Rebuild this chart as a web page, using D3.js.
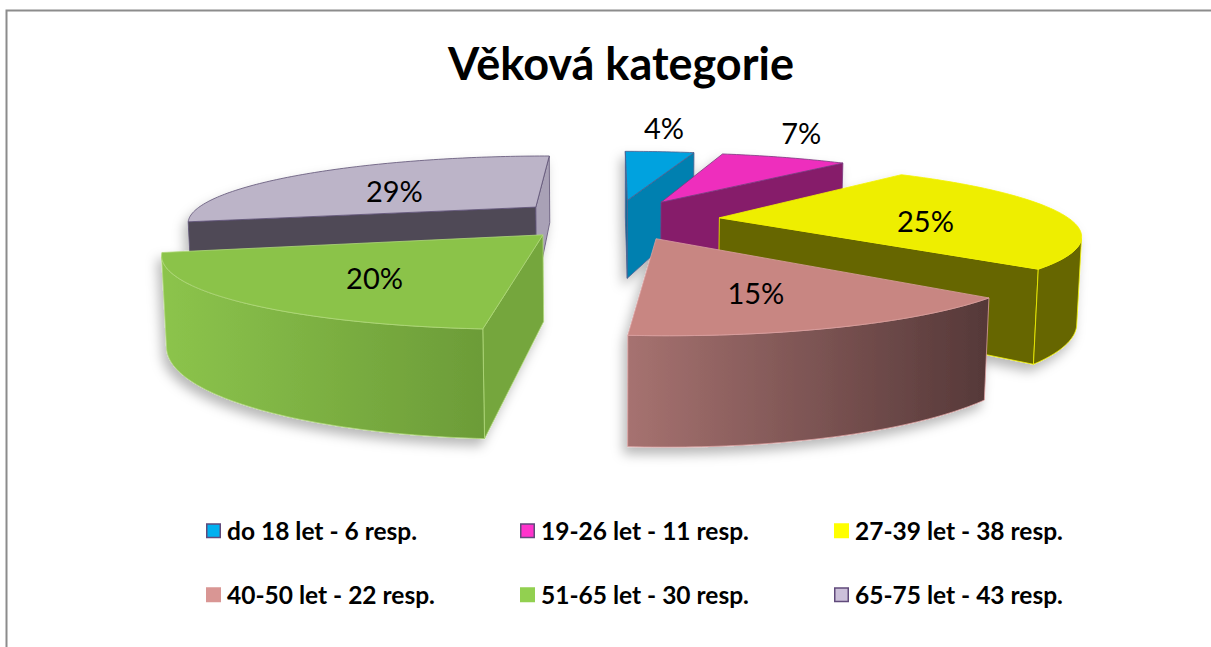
<!DOCTYPE html>
<html>
<head>
<meta charset="utf-8">
<script src="https://cdn.jsdelivr.net/npm/d3@7"></script>
<style>
  body { margin: 0; background: #fff; }
  text { font-family: Lato, "Open Sans", sans-serif; }
</style>
</head>
<body>
<div id="chart"></div>
<script>
// data
var title = "Věková kategorie";
var ageGroups = ["do 18 let", "19-26 let", "27-39 let", "40-50 let", "51-65 let", "65-75 let"];
var responses = [6, 11, 38, 22, 30, 43];

// colours: legend swatch, lit top face, outer wall (left/right), cut faces (start/end), edge line
var legendColors = ["#00b0f0", "#ff33cc", "#ffff00", "#d99694", "#92d050", "#ccc0da"];
var topColors = ["#00a2df", "#ee2fbd", "#eeee00", "#c88682", "#8bc34a", "#bcb4c8"];
var wallLeft = ["#0080b0", "#861a6a", "#666600", "#a67270", "#8cc44c", "#8a8296"];
var wallRight = ["#0080b0", "#861a6a", "#666600", "#553838", "#6c9c38", "#8a8296"];
var cutStart = ["#0a6f9c", "#861a6a", "#666600", "#a87472", "#74a63c", "#4f4a57"];
var cutEnd = ["#0080b0", "#861a6a", "#666600", "#7a5250", "#74a63c", "#a9a1b6"];
var edgeColors = ["#4f5f8e", "#7a3a7e", "#f2f200", "#dba0a0", "#b0d87a", "#5e5275"];
var swatchBorder = ["#604a7b", "#604a7b", "#ffff00", "#d99694", "#92d050", "#604a7b"];

var width = 1211, height = 647;

var svg = d3.select("#chart").append("svg")
  .attr("width", width)
  .attr("height", height);

var defs = svg.append("defs");
var shadow = defs.append("filter").attr("id", "shadow")
  .attr("x", "-20%").attr("y", "-20%").attr("width", "140%").attr("height", "150%");
shadow.append("feDropShadow")
  .attr("dx", -4).attr("dy", 7).attr("stdDeviation", 6)
  .attr("flood-color", "#000").attr("flood-opacity", 0.28);

// frame (top + left)
svg.append("path")
  .attr("d", "M6.5," + height + "V10.5H" + width)
  .attr("fill", "none")
  .attr("stroke", "#8c8c8c")
  .attr("stroke-width", 2);

svg.append("text")
  .attr("x", 621)
  .attr("y", 80)
  .attr("text-anchor", "middle")
  .style("font-size", "45px")
  .style("font-weight", "bold")
  .text(title);

// 3D perspective set-up
var cx = 615, cy = 219;          // screen position of pie centre (top surface)
var R = 350, E = 105, T = 85;    // radius, explode distance, thickness
var D = 1620, F = 1620;          // camera distance, focal length
var elev = Math.asin(0.19);
var ce = Math.cos(elev), se = Math.sin(elev);
var cam = [0, D * ce, D * se];

function proj(p) {
  var z = D - p[1] * ce - p[2] * se;
  return [cx + F * p[0] / z, cy + F * (p[1] * se - p[2] * ce) / z];
}
function facing(p, n) {
  return (cam[0] - p[0]) * n[0] + (cam[1] - p[1]) * n[1] + (cam[2] - p[2]) * n[2] > 0;
}

var total = d3.sum(responses);
var pct = d3.format(".0%");
var pie = d3.pie().sort(null).value(function(d) { return d; });
var arcs = pie(responses);

var line = d3.line().x(function(d) { return d[0]; }).y(function(d) { return d[1]; });

var slices = arcs.map(function(a, i) {
  var mid = (a.startAngle + a.endAngle) / 2;
  var ou = E * Math.sin(mid), ov = -E * Math.cos(mid);
  function pt(t, r, h) { return [ou + r * Math.sin(t), ov - r * Math.cos(t), h]; }
  return {i: i, a: a, mid: mid, ou: ou, ov: ov, pt: pt};
});

// far slices first
slices.sort(function(s1, s2) { return s1.ov - s2.ov; });

var pieG = svg.append("g").attr("filter", "url(#shadow)");

slices.forEach(function(s) {
  var i = s.i, a0 = s.a.startAngle, a1 = s.a.endAngle;
  var g = pieG.append("g").attr("class", "slice");
  var n = Math.max(4, Math.ceil((a1 - a0) * 180 / Math.PI));
  var thetas = d3.range(n + 1).map(function(k) { return a0 + (a1 - a0) * k / n; });
  var apexTop = s.pt(0, 0, 0), apexBot = s.pt(0, 0, -T);

  function face(points, fill) {
    g.append("path")
      .attr("d", line(points.map(proj)) + "Z")
      .attr("fill", fill)
      .attr("stroke", edgeColors[i])
      .attr("stroke-width", 0.8)
      .attr("stroke-linejoin", "round");
  }

  // cut face at start angle
  var nA = [Math.sin(a0 - Math.PI / 2), -Math.cos(a0 - Math.PI / 2), 0];
  if (facing(apexTop, nA)) {
    face([apexTop, s.pt(a0, R, 0), s.pt(a0, R, -T), apexBot], cutStart[i]);
  }
  // cut face at end angle
  var nB = [Math.sin(a1 + Math.PI / 2), -Math.cos(a1 + Math.PI / 2), 0];
  if (facing(apexTop, nB)) {
    face([apexTop, s.pt(a1, R, 0), s.pt(a1, R, -T), apexBot], cutEnd[i]);
  }

  // outer curved wall, visible part only
  var vis = thetas.filter(function(t) {
    return facing(s.pt(t, R, 0), [Math.sin(t), -Math.cos(t), 0]);
  });
  if (vis.length > 1) {
    var topPts = vis.map(function(t) { return s.pt(t, R, 0); });
    var botPts = vis.map(function(t) { return s.pt(t, R, -T); }).reverse();
    var xs = topPts.map(function(p) { return proj(p)[0]; });
    var gid = "wall" + i;
    var grad = defs.append("linearGradient").attr("id", gid)
      .attr("gradientUnits", "userSpaceOnUse")
      .attr("x1", d3.min(xs)).attr("x2", d3.max(xs))
      .attr("y1", 0).attr("y2", 0);
    grad.append("stop").attr("offset", 0).attr("stop-color", wallLeft[i]);
    grad.append("stop").attr("offset", 1).attr("stop-color", wallRight[i]);
    face(topPts.concat(botPts), "url(#" + gid + ")");
  }

  // top face
  face([apexTop].concat(thetas.map(function(t) { return s.pt(t, R, 0); })), topColors[i]);
});

// percentage labels
slices.forEach(function(s) {
  var share = responses[s.i] / total;
  var p = share < 0.1 ? s.pt(s.mid, R * 1.16, 24) : s.pt(s.mid, R * 0.6, -5);
  var xy = proj(p);
  svg.append("text")
    .attr("x", xy[0])
    .attr("y", xy[1])
    .attr("text-anchor", "middle")
    .attr("dominant-baseline", "central")
    .style("font-size", "29px")
    .style("fill", "#000")
    .text(pct(share));
});

// legend
var col = d3.scaleBand().domain([0, 1, 2]).range([206, 1148]);
var row = d3.scaleBand().domain([0, 1]).range([499, 627]);
var legend = svg.append("g").selectAll("g")
  .data(ageGroups)
  .enter()
  .append("g")
  .attr("transform", function(d, i) {
    return "translate(" + col(i % 3) + "," + (row(Math.floor(i / 3)) + row.bandwidth() / 2) + ")";
  });
legend.append("rect")
  .attr("x", 0.75).attr("y", -7)
  .attr("width", 13.5).attr("height", 13.5)
  .attr("fill", function(d, i) { return legendColors[i]; })
  .attr("stroke", function(d, i) { return swatchBorder[i]; })
  .attr("stroke-width", 1.5);
legend.append("text")
  .attr("x", 21)
  .attr("y", 8.5)
  .style("font-size", "24.5px")
  .style("font-weight", "bold")
  .text(function(d, i) { return d + " - " + responses[i] + " resp."; });
</script>
</body>
</html>
